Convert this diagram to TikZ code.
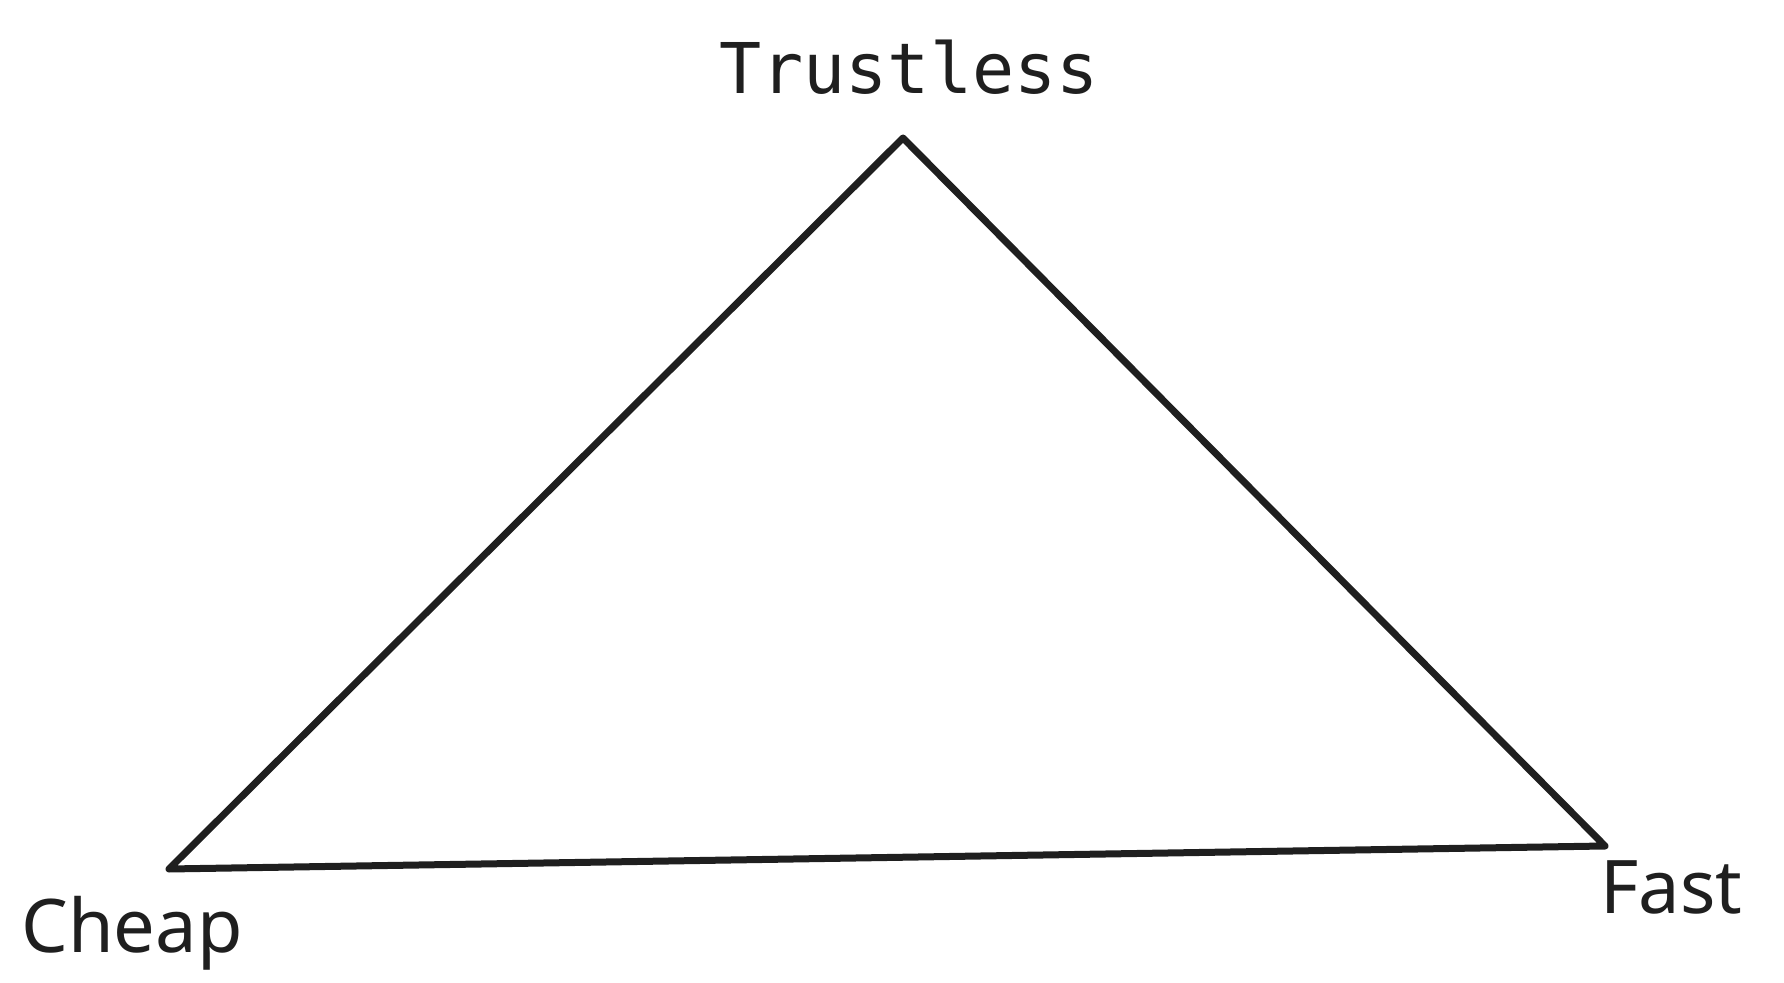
\documentclass[tikz,border=0pt]{standalone}
\usepackage{fontspec}
\setmainfont{Noto Sans}
\newfontfamily\monof{DejaVu Sans Mono}
\begin{document}
\begin{tikzpicture}[x=0.5pt,y=-0.5pt,
  lbl/.style={inner sep=0pt,text=black!88,font=\fontsize{37}{40}\selectfont},
  edge/.style={draw=black!88,line width=3.5pt,line join=round,line cap=round}]
\useasboundingbox (0,0) rectangle (1784,983);
\coordinate (t) at (903,138);
\coordinate (c) at (169,869);
\coordinate (f) at (1605,846);
\draw[edge] (t) -- (f) -- (c) -- cycle;
\node[lbl,font=\monof\fontsize{35}{40}\selectfont,anchor=base] (tl) at (909,94) {Trustless};
\node[lbl,anchor=base west] (cl) at (21,952) {Cheap};
\node[lbl,anchor=base west] (fl) at (1600,913) {Fast};
\end{tikzpicture}
\end{document}
